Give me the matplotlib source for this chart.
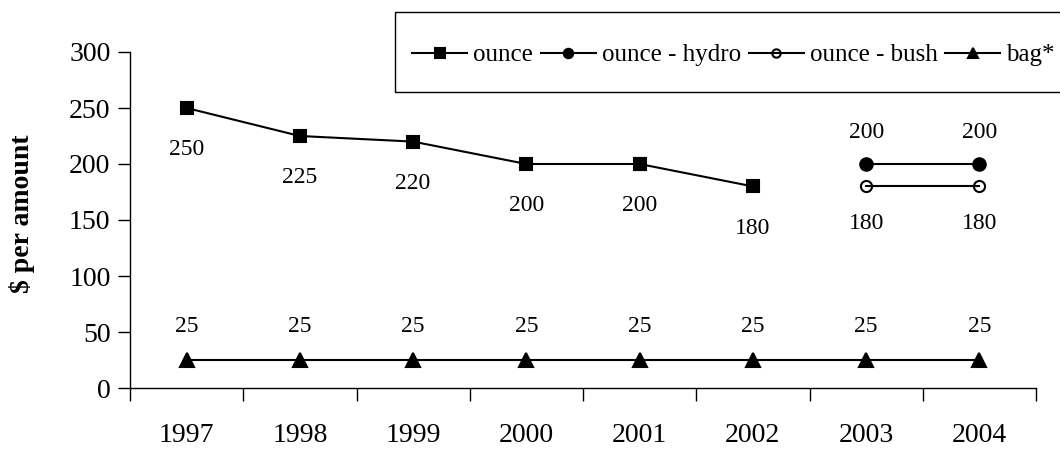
import numpy as np
import matplotlib.pyplot as plt
from matplotlib.patches import Rectangle

plt.rcParams["font.family"] = ["Liberation Serif", "DejaVu Serif"]

years = ["1997", "1998", "1999", "2000", "2001", "2002", "2003", "2004"]
ounce = [250, 225, 220, 200, 200, 180, None, None]
ounce_hydro = [None, None, None, None, None, None, 200, 200]
ounce_bush = [None, None, None, None, None, None, 180, 180]
bag = [25, 25, 25, 25, 25, 25, 25, 25]


def as_array(vals):
    return np.array([np.nan if v is None else v for v in vals], dtype=float)


x = np.arange(len(years))

fig = plt.figure(figsize=(10.6, 4.49), dpi=100)
ax = fig.add_axes([130 / 1060, 1 - 388 / 449, 906 / 1060, 336 / 449])

# (name, values, marker style, label offset in points)
series = [
    ("ounce", ounce, dict(marker="s", mfc="black", ms=9), -30),
    ("ounce - hydro", ounce_hydro, dict(marker="o", mfc="black", ms=9), 23),
    ("ounce - bush", ounce_bush, dict(marker="o", mfc="none", ms=8), -27),
    ("bag*", bag, dict(marker="^", mfc="black", ms=10), 24),
]

handles = []
for name, vals, style, dy in series:
    y = as_array(vals)
    (ln,) = ax.plot(x, y, color="black", lw=1.5, mec="black",
                    mew=1.5, label=name, **style)
    handles.append(ln)
    for xi, yi in zip(x, y):
        if np.isnan(yi):
            continue
        ax.annotate(f"{yi:.0f}", (xi, yi), xytext=(0, dy),
                    textcoords="offset points", ha="center", va="center",
                    fontsize=17)

ax.set_xlim(-0.5, len(years) - 0.5)
ax.set_ylim(0, 300)
ax.set_yticks(np.arange(0, 301, 50))
ax.set_xticks(x)
ax.set_xticklabels(years)
ax.set_xticks(np.arange(-0.5, len(years)), minor=True)
ax.tick_params(axis="x", which="major", length=0, pad=25, labelsize=20)
ax.tick_params(axis="x", which="minor", length=9, width=1, direction="out")
ax.tick_params(axis="y", length=9, width=1, direction="out", pad=5,
               labelsize=20)
for side in ("top", "right"):
    ax.spines[side].set_visible(False)
for side in ("left", "bottom"):
    ax.spines[side].set_linewidth(1)

ax.set_ylabel("$ per amount", fontsize=20, fontweight="bold")
ax.yaxis.set_label_coords(-0.105, 0.52)

# legend box runs off the right edge of the figure
fig.patches.append(Rectangle((395 / 1060, 1 - 92 / 449), 700 / 1060,
                             80 / 449, transform=fig.transFigure,
                             fill=False, edgecolor="black", lw=1))
fig.legend(handles=handles, loc="center left",
           bbox_to_anchor=(412 / 1060, 1 - 55 / 449), ncol=4,
           frameon=False, fontsize=18, handlelength=2.2, handletextpad=0.25,
           columnspacing=0.3, borderaxespad=0, borderpad=0, markerscale=0.75)

fig.savefig("out.png", dpi=100)
